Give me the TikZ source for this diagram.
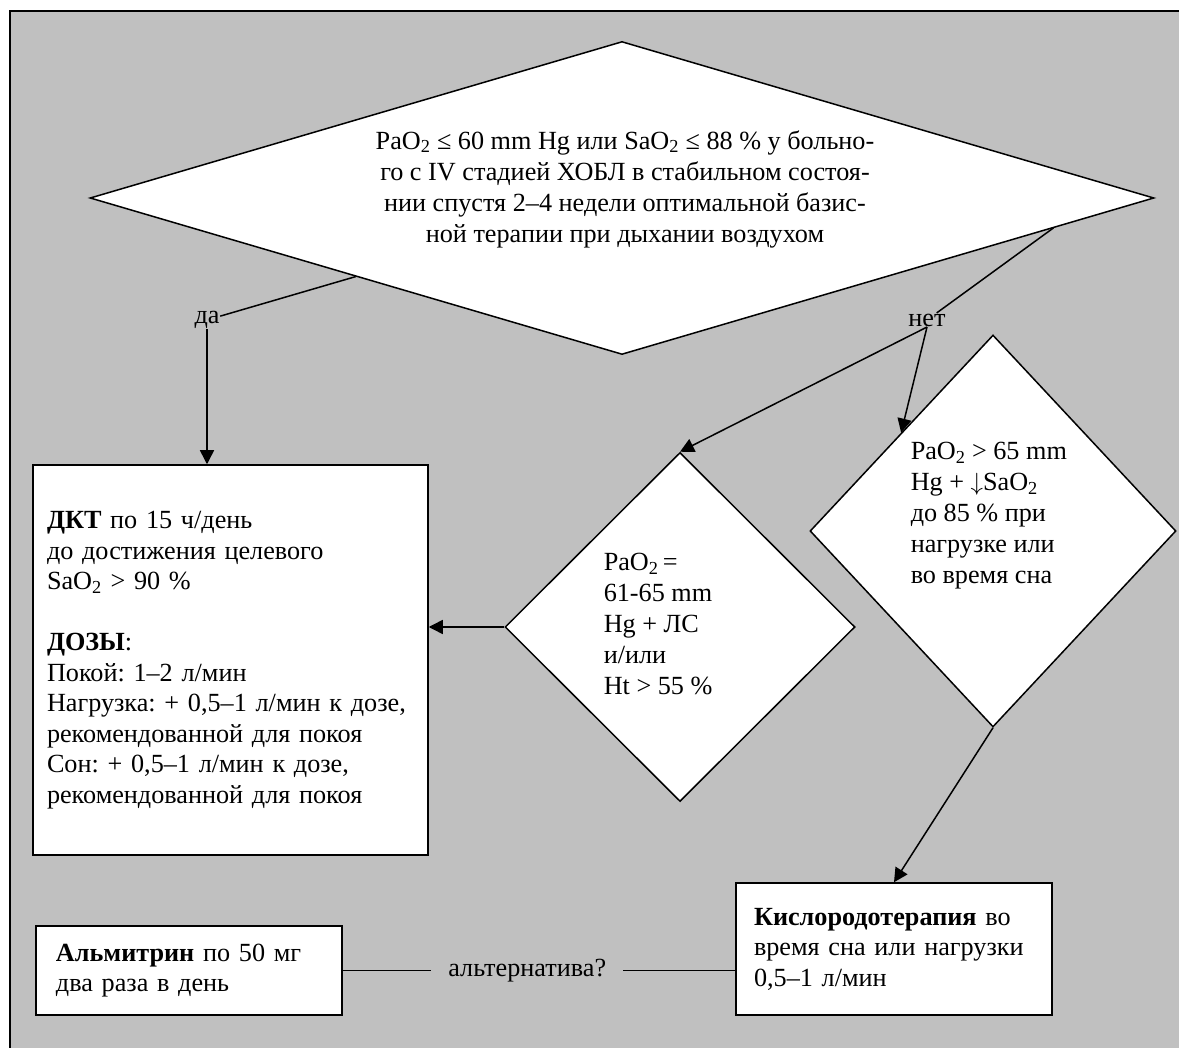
\documentclass[tikz,border=0pt]{standalone}
\usepackage{fontspec}
\setmainfont{Liberation Serif}
\usetikzlibrary{positioning}
\usetikzlibrary{shapes.geometric}
\usetikzlibrary{arrows.meta}
\usetikzlibrary{calc}
\definecolor{panelgray}{RGB}{192,192,192}
\newcommand{\oxy}{O\textsubscript{2}}
\frenchspacing

\begin{document}
\begin{tikzpicture}[x=1pt, y=-1pt,
                          line width=1.5pt,
                          >={Triangle[length=14pt,width=14pt]},
                          txt/.style={font=\fontsize{26.2}{31}\selectfont, inner sep=0pt},
                          decnode/.style={diamond, draw, fill=white, inner sep=0pt},
                          boxnode/.style={rectangle, draw, fill=white, font=\fontsize{26.2}{30.5}\selectfont, align=left, inner xsep=20pt, inner ysep=0pt},
                          edgelabel/.style={fill=panelgray, font=\fontsize{26.2}{31}\selectfont, inner xsep=17pt, inner ysep=2pt},
                      ]
                      \useasboundingbox (0,0) rectangle (1179,1048);
                      \fill[panelgray] (10,11) rectangle (1179,1048);
                      \draw (10,1048) -- (10,11) -- (1179,11);

                      %Nodes
                      \node[decnode, minimum width=1064pt, minimum height=313pt] (q1) at (622,198) {};
                      \node[txt, align=center] (q1txt) at (625,189)
                        {Pa\oxy\ ≤ 60 mm Hg или Sa\oxy\ ≤ 88 \% у больно-\\
                         го с IV стадией ХОБЛ в стабильном состоя-\\
                         нии спустя 2–4 недели оптимальной базис-\\
                         ной терапии при дыхании воздухом};
                      \node[txt] (yes) at (207,320) {да};
                      \node[txt] (no) at (927,320) {нет};

                      \node[decnode, minimum width=350pt, minimum height=349pt] (q2) at (680,627) {};
                      \node[txt, align=left, anchor=west] (q2txt) at (603,624)
                        {Pa\oxy\,=\\ 61-65 mm\\ Hg + ЛС\\ и/или\\ Ht > 55 \%};
                      \node[decnode, minimum width=366pt, minimum height=392pt] (q3) at (993,531) {};
                      \node[txt, align=left, anchor=west] (q3txt) at (910,516)
                        {Pa\oxy\ > 65 mm\\ Hg + $\downarrow$Sa\oxy\\ до 85 \% при\\ нагрузке или\\ во время сна};

                      \node[boxnode, text width=367pt, inner xsep=14pt, minimum height=390pt] (dkt) at (230.5,660)
                        {\textbf{ДКТ} по 15 ч/день\\
                         до достижения целевого\\
                         Sa\oxy\ > 90 \%\\[30.5pt]
                         \textbf{ДОЗЫ}:\\
                         Покой: 1–2 л/мин\\
                         Нагрузка: + 0,5–1 л/мин к дозе,\\
                         рекомендованной для покоя\\
                         Сон: + 0,5–1 л/мин к дозе,\\
                         рекомендованной для покоя};
                      \node[boxnode, text width=280pt, inner xsep=18pt, minimum height=132pt] (kis) at (894,949)
                        {\textbf{Кислородотерапия} во\\ время сна или нагрузки\\ 0,5–1 л/мин};
                      \node[boxnode, text width=266pt, minimum height=89pt] (alm) at (189,970.5)
                        {\textbf{Альмитрин} по 50 мг\\ два раза в день};

                      %Lines
                      \draw (q1.south west) -- (yes);
                      \draw[->] (yes.south) -- (yes.south |- dkt.north);
                      \draw ($(q1.east)!0.19!(q1.south)$) -- (no);
                      \draw[->] (no.south) -- (q2.north);
                      \draw[->] (no.south) -- (q3.north west);
                      \draw[->] (q2.west) -- (q2.west -| dkt.east);
                      \draw[->] (q3.south) -- (kis.north);
                      \draw (alm.east) -- (alm.east -| kis.west) node[edgelabel, pos=0.47] (alt) {альтернатива?};
\end{tikzpicture}
\end{document}
